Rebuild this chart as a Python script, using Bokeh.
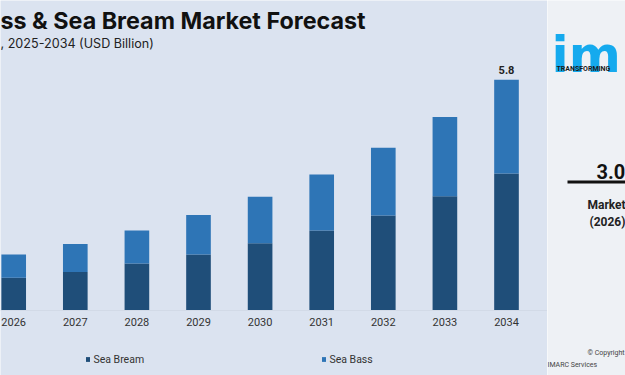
from bokeh.plotting import figure
from bokeh.models import (ColumnDataSource, Label, Legend, LegendItem, Range1d,
                          FixedTicker)
from bokeh.layouts import row
from bokeh.embed import file_html
from bokeh.resources import INLINE
from bokeh.core.properties import value

# ---------------- data ----------------
years = [2026, 2027, 2028, 2029, 2030, 2031, 2032, 2033, 2034]
sea_bream = [0.82, 0.97, 1.18, 1.41, 1.69, 2.01, 2.39, 2.87, 3.44]
sea_bass = [0.59, 0.70, 0.83, 0.99, 1.17, 1.41, 1.70, 1.99, 2.36]
series_names = ["Sea Bream", "Sea Bass"]
tick_labels = [str(y) for y in years]

title_text = "ss & Sea Bream Market Forecast"
subtitle_text = ", 2025-2034 (USD Billion)"

# ---------------- style ----------------
BG = "#dbe3f0"
PANEL_BG = "#eef1f5"
C_BREAM = "#1f4e79"
C_BASS = "#2e75b6"
TXT = "#333333"

H = 375
W_MAIN = 547
W_SIDE = 78
PX_PER_X = 61.6
PX_PER_Y = 39.8
BASE_Y = 310          # pixel row of the zero line

x0 = years[0] - 13.2 / PX_PER_X
p = figure(width=W_MAIN, height=H, output_backend="svg", toolbar_location=None,
           x_range=Range1d(x0, x0 + W_MAIN / PX_PER_X),
           y_range=Range1d(-(H - BASE_Y) / PX_PER_Y, BASE_Y / PX_PER_Y),
           y_axis_location=None, min_border=0,
           background_fill_color=BG, border_fill_color=BG,
           outline_line_color=None)
p.xgrid.visible = False
p.ygrid.visible = False

src = ColumnDataSource(dict(year=years, bream=sea_bream, bass=sea_bass))
rends = p.vbar_stack(["bream", "bass"], x="year", width=0.4,
                     color=[C_BREAM, C_BASS], line_color=None, source=src)

# x axis, pinned at zero inside the frame
ax = p.xaxis[0]
ax.fixed_location = 0
ax.ticker = FixedTicker(ticks=years)
ax.major_label_overrides = {y: t for y, t in zip(years, tick_labels)}
ax.axis_line_color = "#d2dae7"
ax.axis_line_width = 1
ax.major_tick_line_color = None
ax.major_tick_out = 0
ax.major_tick_in = 0
ax.minor_tick_line_color = None
ax.major_label_standoff = 7
ax.major_label_text_font = "Roboto"
ax.major_label_text_font_size = "11px"
ax.major_label_text_color = TXT

# value label on last bar
last_total = sea_bream[-1] + sea_bass[-1]
p.text(x=[years[-1]], y=[last_total], text=[f"{last_total:.1f}"],
       text_align="center", text_baseline="bottom", y_offset=-6,
       text_font=value("Roboto"), text_font_size="11px",
       text_font_style="bold", text_color="#222222")

# legend
legend = Legend(items=[LegendItem(label=n, renderers=[r])
                       for n, r in zip(series_names, rends)],
                location="bottom_center", orientation="horizontal",
                padding=0, margin=9, spacing=94, label_width=133,
                glyph_width=5, glyph_height=6, label_standoff=4,
                label_height=14, label_text_font="Roboto",
                label_text_font_size="10.5px", label_text_color=TXT,
                background_fill_alpha=0, border_line_color=None)
p.add_layout(legend)

# titles
p.add_layout(Label(x=0, y=H - 20, x_units="screen", y_units="screen",
                   text=title_text, text_font="Inter", text_font_size="23.3px",
                   text_font_style="bold", text_color="#111111",
                   text_baseline="alphabetic"))
p.add_layout(Label(x=0, y=H - 43, x_units="screen", y_units="screen",
                   text=subtitle_text, text_font="Inter", text_font_size="12.6px",
                   text_color="#222222", text_baseline="alphabetic"))

# ---------------- side panel ----------------
s = figure(width=W_SIDE, height=H, output_backend="svg", toolbar_location=None,
           x_range=Range1d(0, W_SIDE), y_range=Range1d(H, 0),
           x_axis_location=None, y_axis_location=None,
           min_border=0, background_fill_color=PANEL_BG,
           border_fill_color=PANEL_BG, outline_line_color=None)
s.xgrid.visible = False
s.ygrid.visible = False

def stext(x, y, t, size, color="#222222", bold=False, font="Roboto"):
    s.text(x=[x], y=[y], text=[t], text_font=value(font), text_font_size=size,
           text_font_style="bold" if bold else "normal", text_color=color,
           text_baseline="alphabetic", text_align="left")

LOGO = "#15aaee"
stext(4, 54, "im", "50px", LOGO, bold=True, font="DejaVu Sans")
stext(9, 68, "TRANSFORMING", "7px", "#1a1a1a", bold=True)
stext(49, 171, "3.0", "20px", "#111111", bold=True)
s.segment(x0=[20], y0=[181.5], x1=[W_SIDE], y1=[181.5], line_color="#111111",
          line_width=3)
stext(40, 204, "Market", "12px", "#222222", bold=True)
stext(42, 221.5, "(2026)", "12px", "#222222", bold=True)
stext(40, 352, "© Copyright", "7px", "#444444")
stext(0, 364, "IMARC Services", "7px", "#444444")

layout = row(p, s)
open("out.html", "w").write(file_html(layout, INLINE))
